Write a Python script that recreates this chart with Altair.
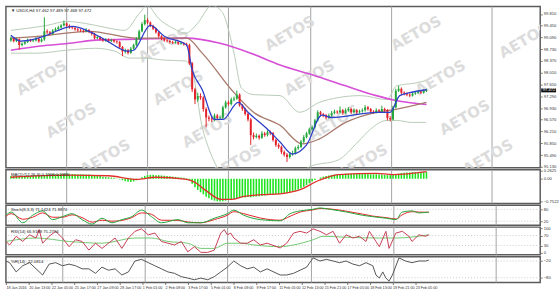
import altair as alt
import pandas as pd

W = 540
XMAX = 188

# ---------------- price candles (H4) ----------------
first_open = 99.00
closes = [99.07, 98.98, 99.04, 98.86, 98.90, 98.95, 99.02, 98.98, 99.00, 99.05,
          98.97, 99.03, 99.28, 99.25, 99.20, 99.30, 99.35, 99.40, 99.46, 99.52,
          99.45, 99.40, 99.38, 99.34, 99.31, 99.30, 99.28, 99.32, 99.26, 99.20,
          99.07, 99.10, 99.04, 99.00, 99.03, 98.98, 99.01, 98.97, 98.95, 98.80,
          98.66, 98.70, 98.62, 98.75, 98.86, 99.05, 99.28, 99.50, 99.62, 99.55,
          99.45, 99.36, 99.25, 99.13, 99.05, 99.00, 98.98, 98.95, 98.93, 98.95,
          98.90, 98.92, 98.88, 98.86, 98.30, 97.50, 97.19, 97.30, 97.25, 96.90,
          96.64, 96.60, 96.58, 96.70, 96.62, 96.64, 96.95, 97.10, 97.05, 97.19,
          97.22, 97.34, 97.01, 96.90, 96.75, 96.58, 96.10, 96.04, 96.08, 96.02,
          96.15, 96.10, 96.19, 96.16, 95.95, 95.80, 95.74, 95.58, 95.50, 95.43,
          95.52, 95.55, 95.70, 95.74, 95.90, 96.04, 96.15, 96.28, 96.34, 96.55,
          96.80, 96.74, 96.71, 96.64, 96.70, 96.78, 96.82, 96.80, 96.86, 96.78,
          96.86, 96.90, 96.80, 96.86, 96.80, 96.83, 96.86, 96.95, 96.90, 96.82,
          96.80, 96.86, 96.83, 96.90, 96.86, 96.62, 96.58, 96.95, 97.46, 97.52,
          97.40, 97.37, 97.34, 97.31, 97.37, 97.40, 97.43, 97.40, 97.45, 97.47]
highs = [99.12, 99.10, 99.08, 99.06, 98.94, 98.99, 99.06, 99.05, 99.04, 99.10,
         99.08, 99.07, 99.71, 99.34, 99.29, 99.35, 99.40, 99.45, 99.50, 99.61,
         99.55, 99.49, 99.44, 99.42, 99.38, 99.36, 99.34, 99.38, 99.35, 99.29,
         99.23, 99.15, 99.13, 99.08, 99.07, 99.06, 99.05, 99.04, 99.00, 98.98,
         98.83, 98.75, 98.74, 98.80, 98.90, 99.10, 99.33, 99.56, 99.79, 99.68,
         99.58, 99.48, 99.39, 99.28, 99.16, 99.09, 99.04, 99.02, 98.99, 98.99,
         98.98, 98.96, 98.95, 98.93, 98.90, 98.34, 97.55, 97.40, 97.38, 97.29,
         96.95, 96.70, 96.66, 96.76, 96.75, 96.70, 97.00, 97.16, 97.15, 97.25,
         97.28, 97.46, 97.38, 97.05, 96.94, 96.79, 96.62, 96.18, 96.15, 96.12,
         96.22, 96.20, 96.25, 96.24, 96.20, 95.99, 95.85, 95.78, 95.63, 95.55,
         95.58, 95.62, 95.75, 95.80, 95.95, 96.10, 96.20, 96.33, 96.40, 96.60,
         96.86, 96.84, 96.78, 96.75, 96.76, 96.84, 96.88, 96.86, 96.98, 96.90,
         96.92, 96.96, 96.94, 96.92, 96.90, 96.88, 96.92, 97.02, 96.99, 96.93,
         96.86, 96.92, 96.90, 97.00, 96.94, 96.90, 96.68, 97.00, 97.52, 97.61,
         97.56, 97.44, 97.41, 97.38, 97.42, 97.45, 97.48, 97.47, 97.50, 97.52]
lows = [98.96, 98.94, 98.95, 98.72, 98.82, 98.87, 98.92, 98.95, 98.95, 98.97,
        98.93, 98.94, 98.99, 99.20, 99.15, 99.17, 99.27, 99.32, 99.37, 99.43,
        99.41, 99.36, 99.34, 99.30, 99.27, 99.26, 99.24, 99.25, 99.22, 99.15,
        99.03, 99.04, 99.00, 98.96, 98.96, 98.94, 98.95, 98.93, 98.90, 98.76,
        98.52, 98.60, 98.57, 98.59, 98.72, 98.83, 99.02, 99.25, 99.46, 99.50,
        99.41, 99.32, 99.21, 99.09, 99.01, 98.96, 98.94, 98.91, 98.89, 98.90,
        98.86, 98.87, 98.84, 98.82, 98.25, 97.42, 97.05, 97.12, 97.18, 96.82,
        96.34, 96.52, 96.50, 96.53, 96.56, 96.57, 96.60, 96.91, 97.00, 97.01,
        97.14, 97.18, 96.97, 96.84, 96.70, 96.52, 95.80, 95.97, 96.00, 95.96,
        95.98, 96.05, 96.06, 96.10, 95.90, 95.74, 95.68, 95.52, 95.44, 95.28,
        95.38, 95.47, 95.51, 95.65, 95.70, 95.86, 96.00, 96.11, 96.24, 96.30,
        96.51, 96.68, 96.65, 96.58, 96.60, 96.66, 96.74, 96.75, 96.76, 96.72,
        96.74, 96.82, 96.75, 96.76, 96.75, 96.76, 96.79, 96.82, 96.85, 96.77,
        96.75, 96.76, 96.78, 96.79, 96.80, 96.55, 96.52, 96.55, 96.92, 97.42,
        97.35, 97.32, 97.29, 97.26, 97.28, 97.33, 97.36, 97.36, 97.37, 97.42]

# ---------------- moving averages / bands (traced) ----------------
blue_i = [0, 3.5, 12, 17, 22, 28, 34, 42, 44, 50, 55, 63, 65, 68.6, 73, 76, 81.5, 85, 92,
          96.5, 101, 106, 111.5, 115, 131, 136, 139.4, 143, 149]
blue_v = [99.16, 98.98, 99.13, 99.31, 99.43, 99.28, 99.01, 98.67, 98.70, 99.46, 99.13,
          98.86, 98.10, 97.49, 96.58, 96.58, 97.10, 96.80, 96.28, 95.89, 95.52, 95.80,
          96.71, 96.64, 96.80, 96.80, 97.31, 97.40, 97.49]
brown_i = [0, 10.5, 28, 45, 63, 68.6, 80, 87, 96.5, 104.5, 110.5, 120, 131, 138, 149]
brown_v = [99.07, 99.13, 99.28, 99.07, 99.07, 98.61, 97.40, 96.80, 96.40, 95.83, 95.98,
           96.49, 96.80, 96.89, 97.10]
mag_i = [0, 10.5, 22, 30.3, 45, 63, 74.6, 86, 96.5, 108, 120, 131, 138, 149]
mag_v = [98.70, 98.83, 98.92, 99.01, 99.04, 99.07, 98.92, 98.61, 98.25, 97.95, 97.61,
         97.31, 97.16, 97.04]
ub_i = [0, 5.9, 12.9, 19.9, 26.8, 33.8, 40.8, 46, 48.8, 53, 58.2, 62.7, 66.9, 72, 75.6,
        80, 82.6, 87, 96.5, 103.5, 110.5, 117.4, 125.4, 134.8, 138.3, 145.3, 148.8]
ub_v = [99.31, 99.37, 99.46, 99.58, 99.52, 99.40, 99.31, 99.82, 100.07, 99.67, 99.37,
        99.22, 99.52, 100.07, 99.89, 98.61, 97.55, 97.34, 97.31, 96.80, 97.10, 97.25,
        97.31, 97.19, 97.61, 97.70, 97.77]
lb_i = [0, 9.4, 19.9, 30.3, 37.3, 42.5, 47.7, 54.7, 62.7, 65.2, 68.6, 71, 73.9, 79, 86,
        96.5, 103.5, 107, 117.4, 124.4, 128.9, 134.8, 138.3, 143.6, 148.8]
lb_v = [98.61, 98.61, 98.70, 98.76, 98.67, 98.46, 98.46, 98.40, 98.37, 98.01, 96.34,
        95.68, 95.13, 94.74, 94.68, 94.68, 94.92, 95.13, 95.34, 95.89, 96.28, 96.55,
        96.55, 96.49, 96.49]

# ---------------- MACD ----------------
macd_hist = [0.08, 0.09, 0.09, 0.08, 0.08, 0.09, 0.10, 0.10, 0.11, 0.11,
             0.11, 0.12, 0.13, 0.14, 0.14, 0.15, 0.15, 0.16, 0.16, 0.17, 0.17,
             0.17, 0.16, 0.16, 0.15, 0.15, 0.15, 0.14, 0.14, 0.13, 0.12, 0.10, 0.09, 0.07, 0.06,
             0.05, 0.04, 0.03, 0.01, -0.02, -0.05, -0.08, -0.10, -0.11, -0.09,
             -0.05, 0.00, 0.05, 0.09, 0.12, 0.13,
             0.13, 0.12, 0.12, 0.11, 0.10, 0.09, 0.08, 0.07, 0.06, 0.05, 0.04, 0.03, 0.02,
             -0.05, -0.17, -0.28, -0.37, -0.45, -0.52, -0.60, -0.65, -0.70, -0.73, -0.75,
             -0.76, -0.75, -0.73, -0.71, -0.69, -0.67, -0.64, -0.63, -0.62, -0.62,
             -0.61, -0.62, -0.60, -0.59, -0.58, -0.57, -0.56, -0.55, -0.54, -0.53, -0.52, -0.51,
             -0.50, -0.49, -0.48, -0.46, -0.43, -0.40, -0.36, -0.32, -0.27, -0.21,
             -0.15, -0.09, -0.04, 0.00,
             0.04, 0.07, 0.09, 0.11, 0.13, 0.14, 0.15, 0.16, 0.16, 0.17,
             0.17, 0.17, 0.17, 0.17, 0.17, 0.16, 0.16, 0.16, 0.15, 0.15,
             0.15, 0.14, 0.14, 0.13, 0.12, 0.12, 0.13, 0.15, 0.17, 0.19,
             0.20, 0.21, 0.21, 0.22, 0.22, 0.22, 0.23, 0.23, 0.23]
sig_i = [0, 20, 35, 45, 52, 63, 66, 69.6, 75.5, 79, 83.5, 90, 96.5, 103.5, 110.5, 117.4,
         131, 137, 149]
sig_v = [0.05, 0.12, 0.10, -0.02, 0.05, -0.02, -0.12, -0.37, -0.69, -0.69, -0.59, -0.53,
         -0.50, -0.37, -0.05, 0.14, 0.18, 0.14, 0.24]

# ---------------- Stochastic ----------------
st_i = [0, 1.9, 5.9, 9.4, 12.9, 16.4, 19.9, 23.3, 26.8, 30.3, 33.8, 37.3, 40.8, 44.3,
        47.7, 51.2, 54.7, 60.5, 64, 68.6, 73.3, 77.9, 80.2, 83.7, 89.5, 96.5, 100, 103.5,
        108, 110.5, 114, 120, 125.4, 129, 133.8, 137.3, 139.4, 143, 145.3, 148.8]
st_main = [50, 66, 12, 50, 72, 28, 43, 58, 28, 5, 35, 12, 28, 43, 76, 43, 12, 28, 12, 12,
           35, 58, 76, 50, 28, 22, 58, 72, 80, 87, 80, 66, 50, 43, 35, 28, 66, 72, 62, 66]
st_sig = [45, 58, 30, 40, 62, 40, 40, 52, 38, 15, 25, 20, 24, 38, 62, 55, 25, 24, 16, 12,
          28, 50, 68, 58, 36, 25, 45, 66, 77, 84, 82, 70, 56, 46, 38, 31, 52, 68, 66, 65]

# ---------------- RSI ----------------
rsi_i = [0, 1.3, 3.6, 5.9, 8.3, 10.6, 11.7, 12.9, 15.2, 17.5, 19.9, 22.2, 24.5, 26.8,
         29.2, 31.5, 33.8, 36.1, 38.4, 40.8, 43.1, 45.4, 47.7, 50.1, 52.4, 54.7, 57, 59.3,
         61.7, 64, 66.3, 68.6, 71, 73.3, 75.6, 76.8, 77.9, 79.1, 80.2, 82.6, 84.9, 87.2,
         89.5, 91.9, 96.5, 98.8, 101.2, 103.5, 105.8, 108.1, 110.5, 112.8, 115.1, 117.4,
         119.7, 122.1, 124.4, 126.7, 127.9, 130.2, 131.4, 133.7, 134.8, 137.2, 139.5,
         141.8, 142.9, 145.3, 147.6, 148.8]
rsi_v = [46, 32, 67, 46, 73, 60, 94, 39, 67, 87, 60, 25, 53, 46, 11, 39, 18, 39, 60, 18,
         60, 87, 97, 73, 80, 46, 39, 32, 46, 4, 25, 2, 2, 11, 80, 94, 73, 80, 60, 39,
         39, 53, 32, 39, 20, 39, 80, 87, 80, 97, 87, 73, 87, 39, 73, 60, 67, 46, 87, 46,
         25, 87, 18, 80, 87, 67, 46, 73, 67, 73]
rma_i = [0, 10.6, 22.2, 33.8, 45.4, 51.2, 57, 64, 68.6, 73.3, 77.9, 82.6, 87.2, 96.5,
         101.2, 108.1, 111.6, 119.7, 131.4, 137.2, 148.8]
rma_v = [46, 60, 46, 39, 60, 60, 46, 39, 18, 18, 39, 39, 32, 25, 32, 53, 67, 63, 60, 60, 73]

# ---------------- Williams %R ----------------
wpr_i = [0, 1.3, 3.6, 5.9, 8.3, 10.6, 12.9, 15.2, 17.5, 19.9, 22.2, 24.5, 26.8, 29.2,
         31.5, 33.8, 36.1, 38.4, 40.8, 43.1, 45.4, 47.7, 50.1, 52.4, 54.7, 57, 59.3, 61.7,
         64, 66.3, 68.6, 71, 73.3, 75.6, 77.9, 80.2, 82.6, 84.9, 87.2, 89.5, 91.9, 96.5,
         98.8, 101.2, 103.5, 105.8, 108.1, 110.5, 112.8, 115.1, 117.4, 119.7, 122.1,
         124.4, 126.7, 129.1, 130.2, 131.4, 132.6, 133.7, 134.8, 136, 138.3, 140.6,
         142.9, 145.3, 147.6, 148.8]
wpr_v = [-20, -26, -59, -37, -26, -48, -70, -31, -26, -37, -31, -37, -48, -48, -64, -42,
         -53, -48, -70, -59, -20, -14, -26, -37, -48, -59, -64, -76, -81, -87, -81, -87,
         -76, -59, -42, -20, -37, -48, -42, -59, -48, -70, -70, -64, -53, -42, -9, -20,
         -14, -20, -26, -20, -31, -37, -26, -37, -70, -81, -59, -81, -92, -70, -9, -20,
         -26, -20, -20, -17]

# ---------------- axes / text ----------------
week_bars = [20, 49, 78, 107.5, 136.5, 172.5]
time_labels = ["18 Jan 2016", "20 Jan 13:00", "22 Jan 05:00", "25 Jan 17:00",
               "27 Jan 09:00", "28 Jan 17:00", "1 Feb 01:00", "2 Feb 09:00",
               "3 Feb 17:00", "5 Feb 01:00", "8 Feb 09:00", "9 Feb 17:00",
               "11 Feb 05:00", "12 Feb 13:00", "15 Feb 21:00", "17 Feb 05:00",
               "18 Feb 13:00", "19 Feb 21:00", "23 Feb 05:00"]
price_ticks = [99.81, 99.45, 99.09, 98.73, 98.37, 98.01, 97.65, 97.29, 96.93, 96.57,
               96.21, 95.85, 95.49, 95.13]
macd_ticks = [0.2625, 0.0, -0.7522]
stoch_ticks = [80, 20]
rsi_ticks = [100, 70, 30, 0]
wpr_ticks = [-20, -80]
stoch_levels = [80, 20]
rsi_levels = [70, 30]
wpr_levels = [-20, -80]
title_main = "\u25bc USDX,H4  97.462 97.489 97.468 97.472"
title_macd = "MACD(12,26,9) 0.1998 0.2986"
title_stoch = "Stoch(8,3,3) 71.1424 71.8874"
title_rsi = "RSI(14) 66.9168 75.2794"
title_wpr = "%R(14) -22.0814"
last_price = "97.472"
wm_i = [11, 21.6, 33.8, 54.7, 60, 70.4, 80.8, 100, 107, 115.7, 126, 145.3, 154, 162.7, 171, 184]
wm_p = [97.86, 96.55, 95.43, 98.86, 97.55, 96.25, 95.28, 99.22, 97.86, 96.49, 95.28,
        99.22, 97.86, 96.64, 95.43, 99.0]

FONT = "Liberation Sans"
PRICE_DOM = [95.10, 100.04]
AX_FS = 4.2

labels_js = "[" + ",".join("'%s'" % s for s in time_labels) + "][round(datum.value/8)]"
x_axis_bottom = alt.Axis(orient="bottom", values=list(range(0, 145, 8)), labelExpr=labels_js,
                         labelFontSize=3.7, labelAlign="left", labelPadding=1, tickSize=2,
                         labelFlush=False, labelOverlap=False, domain=False, grid=False,
                         labelFont=FONT)


def X(axis=None, field="i"):
    return alt.X(f"{field}:Q", scale=alt.Scale(domain=[0, XMAX], nice=False, zero=False),
                 axis=axis, title=None)


def yaxis(values, expr):
    return alt.Axis(orient="right", values=values, labelExpr=expr, labelFontSize=AX_FS,
                    tickSize=2, labelPadding=1, domain=False, grid=False, labelFont=FONT,
                    labelFlush=False)


def Y(field, dom, axis):
    return alt.Y(f"{field}:Q", scale=alt.Scale(domain=dom, nice=False, zero=False),
                 axis=axis, title=None)


def grid_layer(xa=None):
    return alt.Chart(pd.DataFrame({"i": week_bars})).mark_rule(
        color="#a3a3a3", strokeWidth=1).encode(x=X(xa))


def label_layer(text):
    return alt.Chart(pd.DataFrame({"t": [text]})).mark_text(
        align="left", baseline="top", fontSize=4.3, color="#222", font=FONT
    ).encode(x=alt.value(5), y=alt.value(3), text="t:N")


def line_df(ii, vv):
    return pd.DataFrame({"i": ii, "v": vv})


# ---------------- main panel ----------------
n = len(closes)
opens = [first_open] + closes[:-1]
candles = pd.DataFrame({"i": list(range(n)), "open": opens, "close": closes,
                        "high": highs, "low": lows})
candles["dir"] = ["up" if c >= o else "down" for o, c in zip(opens, closes)]
ccolor = alt.Color("dir:N", scale=alt.Scale(domain=["up", "down"], range=["#23a63c", "#e4222b"]),
                   legend=None)
pax = yaxis(price_ticks, "format(datum.value, '.3f')")

wm = pd.DataFrame({"i": wm_i, "p": wm_p, "t": ["AETOS"] * len(wm_i)})
wm_layer = alt.Chart(wm).mark_text(angle=330, fontSize=15, fontWeight="bold", color="#dcdcdc",
                                   font="DejaVu Sans", clip=True).encode(
    x=X(), y=Y("p", PRICE_DOM, pax), text="t:N")

bands = pd.concat([line_df(ub_i, ub_v).assign(s="u"), line_df(lb_i, lb_v).assign(s="l")])
band_layer = alt.Chart(bands).mark_line(clip=True, color="#b7cbb7", strokeWidth=1,
                                        interpolate="monotone").encode(
    x=X(), y=Y("v", PRICE_DOM, pax), detail="s:N")
mag_layer = alt.Chart(line_df(mag_i, mag_v)).mark_line(clip=True, color="#d64fd6", strokeWidth=1.6,
                                                       interpolate="monotone").encode(
    x=X(), y=Y("v", PRICE_DOM, pax))
brown_layer = alt.Chart(line_df(brown_i, brown_v)).mark_line(clip=True, color="#a8786a",
                                                             strokeWidth=1.3,
                                                             interpolate="monotone").encode(
    x=X(), y=Y("v", PRICE_DOM, pax))
wick_layer = alt.Chart(candles).mark_rule(strokeWidth=1).encode(
    x=X(), y=Y("low", PRICE_DOM, pax), y2="high:Q", color=ccolor)
body_layer = alt.Chart(candles).mark_bar(size=2).encode(
    x=X(), y=Y("open", PRICE_DOM, pax), y2="close:Q", color=ccolor)
blue_layer = alt.Chart(line_df(blue_i, blue_v)).mark_line(clip=True, color="#2c3fc8",
                                                          strokeWidth=1.3,
                                                          interpolate="monotone").encode(
    x=X(), y=Y("v", PRICE_DOM, pax))
tag = pd.DataFrame({"lo": [97.41], "hi": [97.53], "mid": [97.47], "t": [last_price]})
tag_rect = alt.Chart(tag).mark_rect(color="#111", clip=False).encode(
    x=alt.value(541), x2=alt.value(556), y=Y("lo", PRICE_DOM, pax), y2="hi:Q")
tag_text = alt.Chart(tag).mark_text(color="white", fontSize=AX_FS, align="left", font=FONT,
                                    clip=False).encode(
    x=alt.value(542.5), y=Y("mid", PRICE_DOM, pax), text="t:N")

main = alt.layer(grid_layer(), wm_layer, band_layer, mag_layer, brown_layer, wick_layer,
                 body_layer, blue_layer, tag_rect, tag_text, label_layer(title_main)
                 ).properties(width=W, height=163)

# ---------------- MACD panel ----------------
MACD_DOM = [-0.82, 0.30]
max_ = yaxis(macd_ticks, "datum.value == 0 ? '0.00' : format(datum.value, '.4f')")
hist_df = pd.DataFrame({"i": list(range(len(macd_hist))), "h": macd_hist})
hist_layer = alt.Chart(hist_df).mark_bar(size=1.6, color="#1ee31e").encode(
    x=X(), y=Y("h", MACD_DOM, max_), y2=alt.datum(0))
sig_layer = alt.Chart(line_df(sig_i, sig_v)).mark_line(color="#e0302c", strokeWidth=1.3,
                                                       interpolate="monotone").encode(
    x=X(), y=Y("v", MACD_DOM, max_))
macd = alt.layer(grid_layer(), hist_layer, sig_layer, label_layer(title_macd)
                 ).properties(width=W, height=34)

# ---------------- Stochastic panel ----------------
ST_DOM = [0, 100]
sax = yaxis(stoch_ticks, "format(datum.value, 'd')")
st_lv = alt.Chart(pd.DataFrame({"v": stoch_levels})).mark_rule(
    color="#c8c8c8", strokeDash=[1, 2], strokeWidth=1).encode(y=Y("v", ST_DOM, sax))
st_df = pd.concat([line_df(st_i, st_sig).assign(s="sig"), line_df(st_i, st_main).assign(s="main")])
st_layer = alt.Chart(st_df).mark_line(strokeWidth=1, interpolate="monotone").encode(
    x=X(), y=Y("v", ST_DOM, sax),
    color=alt.Color("s:N", scale=alt.Scale(domain=["main", "sig"], range=["#a9a9a9", "#c48c72"]),
                    legend=None))
stoch = alt.layer(grid_layer(), st_lv, st_layer, label_layer(title_stoch)
                  ).properties(width=W, height=20)

# ---------------- RSI panel ----------------
RSI_DOM = [-8, 104]
rax = yaxis(rsi_ticks, "format(datum.value, 'd')")
rsi_lv = alt.Chart(pd.DataFrame({"v": rsi_levels})).mark_rule(
    color="#c8c8c8", strokeDash=[1, 2], strokeWidth=1).encode(y=Y("v", RSI_DOM, rax))
rma_layer = alt.Chart(line_df(rma_i, rma_v)).mark_line(color="#72c872", strokeWidth=1,
                                                       interpolate="monotone").encode(
    x=X(), y=Y("v", RSI_DOM, rax))
rsi_layer = alt.Chart(line_df(rsi_i, rsi_v)).mark_line(color="#c63f55", strokeWidth=1).encode(
    x=X(), y=Y("v", RSI_DOM, rax))
rsi = alt.layer(grid_layer(), rsi_lv, rma_layer, rsi_layer, label_layer(title_rsi)
                ).properties(width=W, height=28)

# ---------------- %R panel ----------------
WPR_DOM = [-97, -5]
wax = yaxis(wpr_ticks, "format(datum.value, 'd')")
wpr_lv = alt.Chart(pd.DataFrame({"v": wpr_levels})).mark_rule(
    color="#c8c8c8", strokeDash=[1, 2], strokeWidth=1).encode(y=Y("v", WPR_DOM, wax))
wpr_layer = alt.Chart(line_df(wpr_i, wpr_v)).mark_line(color="#555555", strokeWidth=1,
                                                       clip=True).encode(
    x=X(x_axis_bottom), y=Y("v", WPR_DOM, wax))
wpr = alt.layer(grid_layer(x_axis_bottom), wpr_lv, wpr_layer, label_layer(title_wpr)
                ).properties(width=W, height=26)

chart = alt.vconcat(main, macd, stoch, rsi, wpr, spacing=2, bounds="flush").properties(
    padding={"left": 3, "top": 3, "right": 0, "bottom": 0}, background="white"
).configure_view(stroke="#5c5c5c", strokeWidth=1.5).configure_axis(
    labelColor="#333333", tickColor="#777777")

chart.save("out.html", embed_options={"renderer": "svg", "actions": False})
